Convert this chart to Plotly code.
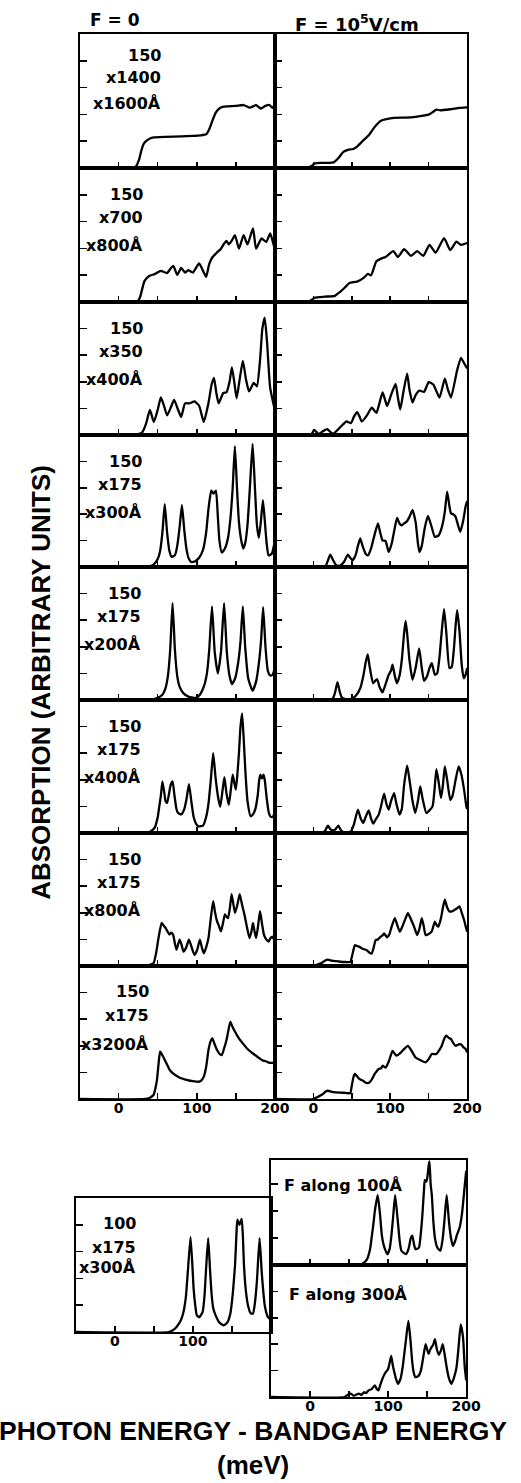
import plotly.graph_objects as go

W, H = 521, 1483

# ---------------- data: (photon energy - bandgap [meV], absorption [arb.]) ----------------
# F = 0 column (left), rows top to bottom
L1 = [(-50,0),(18,0),(22,0.05),(26,0.3),(29,0.65),(32,0.9),(35,1.0),(40,1.1),(45,1.14),(60,1.16),(80,1.18),(95,1.2),(105,1.22),(112,1.26),(116,1.45),(120,1.76),(124,2.05),(128,2.2),(133,2.28),(140,2.3),(150,2.32),(160,2.35),(168,2.25),(176,2.35),(182,2.22),(188,2.32),(193,2.35),(197,2.24),(200,2.38)]
L2 = [(-50,0),(22.8,0),(27,0.15),(30,0.47),(33,0.78),(39,0.97),(46,1.04),(54,1.16),(62,1.08),(66,1.23),(70,1.35),(75,1.01),(80,1.27),(85,1.10),(89,1.19),(95,1.10),(103,1.44),(109,1.10),(112,0.94),(116,1.42),(120,1.67),(125,1.82),(131,1.99),(135,2.18),(138,2.28),(141,2.15),(145,2.3),(149,2.49),(154,1.99),(160,2.49),(165,2.15),(172,2.75),(176,1.99),(183,2.37),(189,2.24),(194,2.56),(198,2.18),(200,1.99)]
L3 = [(-50,0),(20,0),(30,0.1),(35,0.42),(40,0.94),(45,0.49),(50,0.95),(54,1.41),(58,1.1),(62,0.74),(67,1.05),(71,1.32),(76,0.95),(80,0.68),(85,1.19),(91,1.19),(97,1.26),(103,1.1),(109,0.49),(115,1.2),(119,1.9),(122,2.15),(125,1.6),(128,1.19),(134,1.58),(138,1.6),(142,2.0),(145,2.54),(148,2.0),(151,1.38),(155,2.1),(159,2.79),(163,2.1),(167,1.64),(173,1.96),(177,1.83),(181,2.8),(184,4.0),(187,4.41),(190,3.5),(194,1.77),(200,0.94)]
L4 = [(-50,0),(31,0),(40,0.03),(45,0.1),(50,0.3),(53,0.6),(56,1.3),(59,2.38),(62,1.3),(65,0.6),(68,0.38),(72,0.45),(75,0.8),(78,1.5),(81,2.34),(84,1.4),(87,0.65),(90,0.3),(93,0.19),(98,0.22),(103,0.35),(108,0.65),(112,1.3),(115,2.2),(118.6,2.89),(121.5,2.78),(124.5,2.89),(127,1.9),(129,1.0),(132,0.55),(136,0.7),(140,1.1),(143,1.8),(146,3.0),(148.8,4.58),(151.5,3.0),(154,1.7),(157,1.0),(159.5,0.7),(162,0.9),(165,1.6),(168,3.0),(171.5,4.66),(174.5,3.0),(177,1.6),(179.5,1.1),(182,1.7),(184.7,2.53),(187,1.8),(189.5,0.9),(192,0.44),(196,0.5),(200,1.0)]
L5 = [(-50,0),(40,0),(50,0.08),(56,0.2),(60,0.45),(63,0.9),(66,1.9),(69,3.64),(72,1.9),(75,0.9),(78,0.5),(83,0.25),(90,0.12),(99,0.08),(104,0.2),(109,0.5),(113,1.0),(116,1.9),(119.5,3.52),(123,1.8),(127,1.0),(131,1.8),(135,3.64),(138.5,1.8),(142,0.9),(145,0.6),(149,0.8),(153,1.4),(156,2.2),(159,3.52),(162,2.0),(166,0.8),(171.5,0.35),(176,0.7),(180,1.5),(182.5,2.3),(185,3.49),(188,2.0),(191,1.1),(194,0.92),(197,0.95),(200,1.2)]
L6 = [(-50,0),(33,0),(40,0.05),(46,0.19),(50,0.6),(52,1.0),(54,1.4),(56,1.94),(58.5,1.5),(60,1.2),(62,1.13),(64,1.4),(66.5,1.8),(69,1.94),(71.5,1.4),(74,0.9),(76,0.75),(80,0.7),(84,0.9),(87,1.3),(90,1.84),(93,1.2),(96,0.6),(99,0.35),(102,0.25),(108,0.28),(112,0.6),(115,1.1),(118,2.0),(121,3.0),(124,2.1),(127,1.4),(130,0.98),(133,1.6),(135.4,2.1),(138,1.5),(141,1.06),(143.5,1.6),(146,2.19),(148,1.9),(150,1.63),(152,2.2),(154,3.0),(156,4.0),(158,4.5),(160,3.6),(162.5,2.2),(165,1.2),(169,0.63),(172,0.7),(175,0.9),(178,1.4),(180,2.0),(181.5,2.19),(183.5,2.05),(185.4,2.19),(187,2.0),(189.6,1.3),(192,0.8),(194,0.63),(197,0.6),(200,0.75)]
L7 = [(-50,0),(34,0),(40,0.05),(44.6,0.1),(48,0.5),(51,1.05),(55,1.62),(58,1.5),(60,1.43),(62.5,1.3),(65,1.18),(67,1.25),(69.6,1.18),(72,0.85),(74,0.61),(76,0.8),(78,0.99),(80.5,0.8),(83,0.54),(86.5,0.7),(90,0.99),(93.5,0.7),(97,0.42),(100.5,0.6),(104,0.99),(106.5,0.7),(109,0.48),(112,0.7),(115,1.05),(118,1.8),(121,2.44),(123.5,2.0),(126,1.68),(128.5,1.5),(131,1.3),(133.5,1.6),(136,1.94),(138,1.85),(140,1.8),(142.5,2.2),(144.6,2.7),(147,2.3),(149,2.0),(152,2.3),(155,2.7),(158,2.3),(161,1.94),(164,1.5),(167.5,1.05),(170,1.3),(172,1.62),(174,1.3),(176,1.05),(178.5,1.5),(181,2.06),(183.5,1.6),(186,1.18),(189,1.0),(192,0.92),(194.5,1.05),(197,1.1),(200,0.92)]
L8 = [(-50,0),(34,0),(40,0.05),(44.6,0.15),(47,0.4),(49,0.71),(51,1.3),(53,1.78),(55,1.7),(57,1.59),(61,1.35),(65.4,1.09),(70,0.95),(76,0.84),(82,0.76),(88,0.71),(95,0.67),(103,0.65),(106,0.7),(109,0.84),(112,1.2),(115,1.84),(117.5,2.15),(120,2.28),(123,2.05),(126,1.84),(129,1.7),(132,1.65),(135,1.9),(138,2.21),(141,2.65),(143,2.9),(146,2.7),(149,2.53),(154,2.28),(159,2.09),(165,1.88),(172,1.71),(178,1.58),(184,1.46),(190,1.4),(193,1.36),(200,1.36)]

# F = 1e5 V/cm column (right), rows top to bottom
R1 = [(-50,0),(-10,0),(-3,0.06),(2,0.17),(10,0.19),(20,0.19),(27,0.22),(33,0.38),(39,0.6),(45,0.68),(52,0.71),(58,0.83),(65,1.03),(72,1.22),(80,1.54),(88,1.76),(95,1.82),(105,1.87),(120,1.88),(135,1.92),(150,1.99),(155,2.08),(160,2.18),(165,2.15),(180,2.2),(190,2.24),(200,2.26)]
R2 = [(-50,0),(-7,0),(2,0.16),(15,0.2),(28,0.23),(35,0.38),(41,0.54),(47,0.71),(57,0.76),(65,0.89),(71,1.05),(75,0.99),(82,1.52),(88,1.62),(94,1.68),(104,1.9),(110,1.68),(118,1.97),(127,1.72),(135,1.9),(143,1.72),(151,2.13),(159,1.84),(170,2.38),(178,1.94),(186,2.25),(192,2.13),(200,2.2)]
R3 = [(-50,0),(-3,0),(1,0.19),(7,0.04),(13,0.15),(18,0.22),(22,0.12),(26,0.04),(30,0.15),(34,0.26),(38,0.38),(43,0.51),(49,0.45),(53,0.7),(57,0.86),(60,0.7),(63,0.51),(70,0.75),(76,1.03),(82,0.83),(86,1.2),(90,1.6),(93,1.35),(96,1.09),(101,1.5),(107,1.92),(110,1.4),(113,0.96),(117,1.6),(122,2.31),(125,1.7),(129,1.22),(133,1.5),(138,1.67),(144,1.62),(150,1.99),(156,1.9),(164,1.41),(171,2.12),(175,1.7),(179,1.41),(187,2.44),(192,2.9),(196,2.7),(200,2.5)]
R4 = [(-50,0),(15,0),(19,0.25),(22,0.47),(25,0.3),(30,0.06),(35,0.05),(40,0.2),(45,0.47),(48,0.35),(51,0.25),(55,0.45),(58,0.8),(61,1.08),(64,0.8),(68,0.5),(71,0.44),(75,0.7),(79,1.15),(84,1.65),(87,1.3),(90,1.01),(94,0.98),(98,0.57),(102,0.9),(106,1.5),(109,1.86),(112,1.65),(115,1.58),(118,1.65),(121,1.71),(125,1.9),(129,2.15),(133,1.7),(136,0.9),(138,0.57),(141,0.8),(145,1.5),(149,1.94),(153,1.6),(158,1.14),(163,1.2),(167,1.5),(171,2.1),(174,2.85),(177,2.3),(179,2.03),(182,2.0),(185,1.9),(188,1.6),(191,1.33),(195,1.77),(198,2.3),(200,2.5)]
R5 = [(-50,0),(24,0),(28,0.25),(31.4,0.67),(34,0.35),(37,0.1),(42,0.03),(49,0.04),(55,0.15),(61,0.44),(65,0.9),(68,1.4),(70.7,1.71),(73,1.3),(77.7,0.63),(80.5,0.72),(83,0.78),(86,0.5),(90,0.29),(94,0.6),(98,0.95),(101,1.1),(103,1.33),(106,0.9),(108.7,0.63),(112,0.9),(115,1.5),(118,2.5),(120,2.97),(122,2.5),(125,1.5),(129,0.76),(133,1.2),(137.6,1.94),(141,1.2),(144,0.72),(148,0.9),(151,1.2),(154,1.39),(158,0.95),(161,1.0),(164,1.6),(167,2.6),(170,3.42),(173,2.5),(177,1.2),(180,1.25),(183,2.0),(185,2.8),(187,3.38),(190,2.6),(193,1.3),(195.5,0.82),(198,0.95),(200,1.2)]
R6 = [(-50,0),(12,0),(16,0.12),(19,0.28),(22,0.15),(26,0.1),(29,0.15),(32.5,0.28),(36,0.1),(41,0),(49,0.06),(53,0.35),(58,0.88),(61.5,0.55),(65,0.38),(68,0.6),(72,0.85),(75,0.55),(78,0.35),(81,0.5),(85,0.69),(88,1.0),(92,1.48),(95,1.1),(98,0.88),(101,1.2),(105,1.5),(108,1.1),(112,0.69),(115,0.9),(118,1.8),(122,2.53),(125,2.0),(129,1.2),(132.5,0.75),(136,1.2),(139,1.75),(142,1.3),(147,0.75),(151,0.85),(155,1.0),(157.5,1.6),(160,2.4),(163,1.9),(166,1.31),(168.5,1.8),(171,2.5),(174,2.0),(178,1.25),(181,1.4),(185,2.0),(189,2.5),(192.5,2.2),(196,1.63),(199,1.0),(200,0.9)]
R7 = [(-50,0),(0,0),(5,0.05),(10,0.1),(15,0.2),(19,0.24),(24,0.2),(29,0.18),(35,0.16),(42,0.15),(48,0.15),(51,0.45),(54,0.78),(57,0.75),(60,0.72),(64,0.65),(69,0.6),(73,0.5),(76,0.47),(78.5,0.7),(81,0.97),(84,1.0),(87.5,1.1),(90,1.15),(92,1.23),(94,1.15),(96,1.08),(99,1.2),(102,1.5),(106,1.8),(109,1.55),(112.5,1.29),(116,1.5),(120,1.8),(123,1.99),(127,1.75),(131,1.48),(135,1.16),(138,1.4),(141,1.8),(143.5,1.5),(146,1.16),(150,1.2),(154,1.3),(158,1.67),(160,1.55),(162.5,1.48),(166,1.8),(168.5,2.2),(171,2.49),(174,2.2),(177,2.05),(180,2.05),(183,2.1),(186,2.15),(190,2.24),(193,2.0),(196,1.73),(198,1.5),(200,1.29)]
R8 = [(-50,0),(0,0),(6,0.08),(12.5,0.19),(16,0.28),(19,0.31),(24,0.27),(29,0.25),(35,0.24),(42,0.23),(48,0.22),(50,0.5),(52,0.8),(54,0.94),(57,0.85),(60,0.75),(64,0.7),(67,0.63),(71,0.6),(75,0.69),(80,0.95),(85,1.13),(88,1.15),(90,1.25),(94,1.18),(98,1.4),(103,1.81),(106,1.7),(108,1.63),(112,1.7),(117,1.85),(123,2.0),(128,1.8),(133,1.56),(140,1.45),(146,1.38),(150,1.5),(154,1.69),(160,1.69),(164,1.85),(167,2.0),(170,2.25),(173,2.38),(176,2.3),(179,2.25),(182,2.1),(185,2.0),(189,2.05),(192,2.06),(195,1.95),(198,1.88),(200,1.75)]

# lower section
LB = [(-50,0),(69,0),(75,0.08),(79,0.19),(84,0.4),(87.5,0.69),(91,1.3),(94,2.44),(97,3.54),(99.5,2.4),(101,1.6),(103,1.0),(105,0.63),(108,0.55),(112.5,0.75),(115,1.4),(117,2.4),(119.6,3.5),(122,2.3),(124,1.4),(126,0.9),(129,0.63),(134,0.35),(139.6,0.25),(144,0.35),(148,0.69),(151,1.4),(154,2.5),(156,3.8),(157,4.19),(159.6,4.0),(162.5,4.22),(164,3.6),(165.4,2.5),(168,1.5),(171,0.94),(174,0.7),(177,0.69),(179.5,1.1),(182,1.9),(185.4,3.5),(188,2.3),(189.6,1.7),(192,1.0),(196,0.56),(200,0.45)]
RB1 = [(-50,0),(60,0),(67,0.05),(73,0.21),(77,0.6),(79,1.03),(81.5,1.6),(83,2.0),(86.7,2.59),(89.6,1.9),(92,1.1),(94,0.78),(96.5,0.55),(99,0.4),(102,0.6),(104,1.03),(106.5,1.8),(109,2.59),(112.5,1.6),(115,0.85),(117,0.53),(120,0.45),(123,0.4),(125,0.5),(127,0.7),(129,1.0),(131,1.09),(133,0.8),(135,0.59),(137,0.6),(139.6,0.65),(142,1.2),(144,1.9),(146,2.8),(147,3.15),(149,3.1),(150,3.2),(152,3.7),(153,3.85),(154.5,3.0),(156,2.6),(158,1.6),(160,1.0),(163,0.65),(167,0.53),(170,1.0),(172,1.6),(175,2.59),(178,1.6),(180.5,1.0),(183,0.71),(186,0.9),(188,1.1),(191.7,1.4),(194.6,1.9),(198,2.9),(200,3.5)]
RB2 = [(-50,0),(44,0),(48,0.08),(52,0.13),(56,0.05),(60,0.1),(62.5,0.13),(66,0.08),(69,0.18),(72,0.15),(75,0.25),(79,0.3),(83,0.44),(85.5,0.3),(87.5,0.25),(90,0.45),(92,0.63),(96,0.9),(100,1.06),(102,1.3),(104,1.56),(106,1.2),(108,0.94),(110,0.7),(112.5,0.5),(116,0.7),(119,1.2),(121,1.7),(123,2.2),(126,2.88),(128.5,2.2),(131,1.3),(133,0.9),(135,0.75),(139,0.8),(142,1.0),(145,1.5),(148,2.0),(150,1.8),(152,1.63),(154,1.8),(156,1.9),(158,2.0),(160,2.19),(162.5,1.8),(165,1.6),(167.5,1.75),(170,2.0),(172.5,1.6),(175,1.13),(178,0.7),(181,0.5),(184,0.7),(187.5,1.1),(190,1.8),(193,2.75),(196,2.25),(198,1.2),(200,0.63)]

# panel labels (well widths)
LEFT_LABELS = [["150", "x1400", "x1600Å"], ["150", "x700", "x800Å"], ["150", "x350", "x400Å"],
               ["150", "x175", "x300Å"], ["150", "x175", "x200Å"], ["150", "x175", "x400Å"],
               ["150", "x175", "x800Å"], ["150", "x175", "x3200Å"]]
LB_LABEL = ["100", "x175", "x300Å"]
RB_LABELS = ["F along 100Å", "F along 300Å"]
TICK_VALS = [0, 50, 100, 150, 200]
TICK_TEXT_FULL = ["0", "", "100", "", "200"]
TICK_TEXT_LB = ["0", "", "100", "", ""]

# ---------------- layout geometry (pixels in the 521 x 1483 page) ----------------
ROW_EDGES = [34, 168, 302, 435, 567, 700, 833, 966, 1099]
LEFT_COL = (82, 283)
RIGHT_COL = (283, 481)

def px_x(px):
    return px / W

def px_y(py):
    return 1 - py / H

def xdom(a, b):
    return [px_x(a), px_x(b)]

def ydom(top, bot):
    return [px_y(bot), px_y(top)]

panels = []  # (data, xpx, (top,bot), yrange, ticktext or None)
left_data = [L1, L2, L3, L4, L5, L6, L7, L8]
right_data = [R1, R2, R3, R4, R5, R6, R7, R8]
for r in range(8):
    tt = TICK_TEXT_FULL if r == 7 else None
    panels.append((left_data[r], LEFT_COL, (ROW_EDGES[r], ROW_EDGES[r + 1]), [0, 5], tt))
    panels.append((right_data[r], RIGHT_COL, (ROW_EDGES[r], ROW_EDGES[r + 1]), [0, 5], tt))
panels.append((LB, (78, 279), (1198, 1332), [0, 5], TICK_TEXT_LB))
panels.append((RB1, (279, 480), (1160, 1265), [0, 3.9], None))
panels.append((RB2, (279, 480), (1265, 1397), [0, 5], TICK_TEXT_FULL))

fig = go.Figure()
layout = {}
FONT = "DejaVu Sans"
for i, (data, xpx, ypx, yr, tt) in enumerate(panels, start=1):
    sx = "" if i == 1 else str(i)
    xs = [p[0] for p in data]
    ys = [p[1] for p in data]
    fig.add_trace(go.Scatter(x=xs, y=ys, mode="lines", xaxis="x" + sx, yaxis="y" + sx,
                             line=dict(color="black", width=2.3, shape="spline", smoothing=0.5),
                             showlegend=False, hoverinfo="skip"))
    layout["xaxis" + sx] = dict(
        domain=xdom(*xpx), anchor="y" + sx, range=[-50, 200], showgrid=False, zeroline=False,
        showline=True, mirror=True, linecolor="black", linewidth=2,
        ticks="inside", ticklen=6, tickwidth=1.5, tickcolor="black",
        tickvals=TICK_VALS, ticktext=tt if tt else [""] * 5, showticklabels=bool(tt),
        ticklabelstandoff=-5,
        tickfont=dict(family=FONT, size=14, color="black", weight="bold"))
    layout["yaxis" + sx] = dict(
        domain=ydom(*ypx), anchor="x" + sx, range=yr, showgrid=False, zeroline=False,
        showline=True, mirror=True, linecolor="black", linewidth=2,
        ticks="inside", ticklen=7, tickwidth=1.5, tickcolor="black",
        tickvals=[1, 2, 3, 4], showticklabels=False)

ann = []
def text(s, x, y, size=16, xanchor="center", angle=0, family=FONT):
    ann.append(dict(text="<b>" + s + "</b>", x=px_x(x), y=px_y(y), xref="paper", yref="paper",
                    xanchor=xanchor, yanchor="middle", showarrow=False, textangle=angle,
                    font=dict(family=family, size=size, color="black")))

text("F = 0", 91, 20, size=17, xanchor="left")
text("F = 10<sup>5</sup>V/cm", 302, 23, size=18, xanchor="left")

label_right = [168, 149, 149, 148, 147, 147, 147, 155]
label_offsets = [(21.5, 44, 70), (26, 49.5, 77.5), (26, 49.5, 77.5), (26, 49.5, 77.5),
                 (26, 49.5, 77.5), (26, 49.5, 77.5), (26, 49.5, 77.5), (25, 49, 78)]
for r in range(8):
    top = ROW_EDGES[r]
    for k in range(3):
        text(LEFT_LABELS[r][k], label_right[r], top + label_offsets[r][k], size=16, xanchor="right")
for k, off in enumerate((25.5, 49.5, 69.5)):
    text(LB_LABEL[k], 142, 1198 + off, size=16, xanchor="right")
text(RB_LABELS[0], 290, 1185, size=16, xanchor="left")
text(RB_LABELS[1], 296, 1294, size=16, xanchor="left")

text("ABSORPTION (ARBITRARY UNITS)", 42, 682, size=26, angle=-90, family="Liberation Sans")
text("PHOTON ENERGY - BANDGAP ENERGY", 261, 1431, size=26.5, family="Liberation Sans")
text("(meV)", 261, 1465, size=26, family="Liberation Sans")

fig.update_layout(width=W, height=H, margin=dict(l=0, r=0, t=0, b=0, pad=0),
                  paper_bgcolor="white", plot_bgcolor="white", annotations=ann, **layout)

# the page must fill the browser window exactly: no default body margin, no scrollbars
POST = ("document.documentElement.style.margin='0px';"
        "document.body.style.margin='0px';"
        "document.documentElement.style.overflow='hidden';"
        "document.body.style.overflow='hidden';")
fig.write_html("out.html", config={"displayModeBar": False, "staticPlot": True}, post_script=POST)
